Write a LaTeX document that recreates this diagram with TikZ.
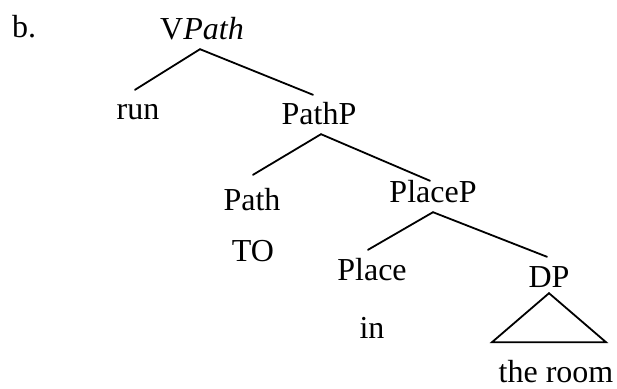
\documentclass[tikz,border=0pt]{standalone}
\usepackage{fontspec}
\setmainfont{Liberation Serif}
\begin{document}
\begin{tikzpicture}[x=1pt,y=1pt,
  lbl/.style={anchor=base,inner sep=0pt,text height=30pt,text depth=9pt,
    font=\fontsize{32}{38}\selectfont},
  branch/.style={line width=1.8pt,line cap=round}]
\useasboundingbox (0,0) rectangle (617,388);
% labels
\node[lbl,anchor=base west] (ex) at (12,350) {b.};
\node[lbl] (vpath) at (202,348) {V\textit{Path}};
\node[lbl] (run) at (138,268) {run};
\node[lbl] (pathp) at (319,263) {PathP};
\node[lbl] (path) at (252,177) {Path};
\node[lbl] (to) at (253,126) {TO};
\node[lbl] (placep) at (433,185) {PlaceP};
\node[lbl] (place) at (372,108) {Place};
\node[lbl] (in) at (372,50) {in};
\node[lbl] (dp) at (549,101) {DP};
\node[lbl,text depth=0pt] (room) at (556,6) {the room};
% branches
\draw[branch] ([xshift=-2pt]vpath.south) -- ([xshift=-3pt]run.north);
\draw[branch] ([xshift=-2pt]vpath.south) -- ([xshift=-6pt]pathp.north);
\draw[branch] ([xshift=2pt]pathp.south) -- ([xshift=1pt,yshift=6pt]path.north);
\draw[branch] ([xshift=2pt]pathp.south) -- ([xshift=-3pt,yshift=-8pt]placep.north);
\draw[branch] (placep.south) -- ([xshift=-4pt]place.north);
\draw[branch] (placep.south) -- ([xshift=-2pt]dp.north);
% roof over the DP
\draw[branch,line join=miter] ([yshift=3pt]dp.south) -- ++(-57,-49) -- ++(114,0) -- cycle;
\end{tikzpicture}
\end{document}
